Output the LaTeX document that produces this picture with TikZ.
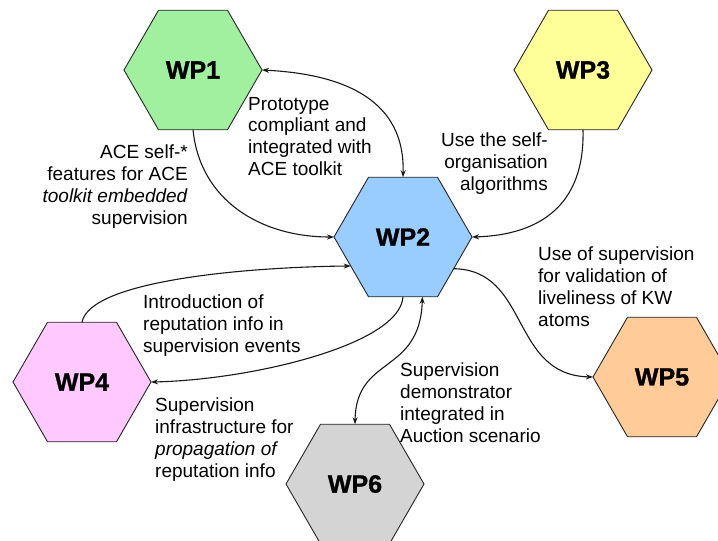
\documentclass[tikz,border=0pt]{standalone}
\usepackage{fontspec}
\setmainfont{Liberation Sans}
\newfontfamily\wpfont{Liberation Sans Bold}[FakeBold=1.2]
\usetikzlibrary{shapes.geometric,arrows.meta}

\definecolor{wpgreen}{RGB}{160,240,160}
\definecolor{wpblue}{RGB}{153,204,255}
\definecolor{wpyellow}{RGB}{255,255,153}
\definecolor{wppink}{RGB}{255,200,255}
\definecolor{wporange}{RGB}{255,204,153}
\definecolor{wpgray}{RGB}{212,212,212}

\begin{document}
\begin{tikzpicture}[x=1pt,y=-1pt,
  wp/.style={regular polygon, regular polygon sides=6, minimum size=138pt,
    inner sep=0pt, outer sep=0pt, draw=black!85, line width=0.9pt,
    font=\fontsize{25}{30}\selectfont\wpfont},
  link/.style={line width=1.1pt, draw=black!90, >={Stealth[length=7pt,width=5pt]}},
  lbl/.style={inner sep=0pt, font=\fontsize{19}{21.7}\selectfont}
]
\useasboundingbox (0,0) rectangle (718,541);
\fill[white] (0,0) rectangle (718,541);
\clip (0,0) rectangle (718,541);

% work packages
\node[wp, fill=wpgreen]  (wp1) at (193,70)  {WP1};
\node[wp, fill=wpyellow] (wp3) at (583,70)  {WP3};
\node[wp, fill=wpblue]   (wp2) at (403,237) {WP2};
\node[wp, fill=wppink]   (wp4) at (82,382)  {WP4};
\node[wp, fill=wporange] (wp5) at (662,377) {WP5};
\node[wp, fill=wpgray]   (wp6) at (355,484) {WP6};

% relations between work packages
\draw[link,<->] (wp1.east) .. controls (360,75) and (405,110) .. (wp2.north);
\draw[link,->] (wp1.south) .. controls (200,200) and (260,237) .. (wp2.west);
\draw[link,->] (wp3.south) .. controls (585,205) and (540,235) .. (wp2.east);
\draw[link,->] (wp4.north) .. controls (90,280) and (250,267) .. (wp2.209);
\draw[link,->] (wp2.south) .. controls (400,345) and (250,380) .. (wp4.east);
\draw[link,->] (wp2.-32) .. controls (530,270) and (510,375) .. (wp5.west);
\draw[link,<->] (wp6.north) .. controls (356,355) and (420,375) .. (wp2.-72);

% relation descriptions
\node[lbl, anchor=north west, align=left] (l12) at (248,97)
  {Prototype\\compliant and\\integrated with\\ACE toolkit};
\node[lbl, anchor=north east, align=right] (l12b) at (188,145)
  {ACE self-*\\features for ACE\\\textit{toolkit embedded}\\supervision};
\node[lbl, anchor=north east, align=right] (l32) at (548,133)
  {Use the self-\\organisation\\algorithms};
\node[lbl, anchor=north west, align=left] (l25) at (538,247)
  {Use of supervision\\for validation of\\liveliness of KW\\atoms};
\node[lbl, anchor=north west, align=left] (l42) at (143,295)
  {Introduction of\\reputation info in\\supervision events};
\node[lbl, anchor=north west, align=left] (l24) at (155,398)
  {Supervision\\infrastructure for\\\textit{propagation of}\\reputation info};
\node[lbl, anchor=north west, align=left] (l26) at (400,363)
  {Supervision\\demonstrator\\integrated in\\Auction scenario};
\end{tikzpicture}
\end{document}
